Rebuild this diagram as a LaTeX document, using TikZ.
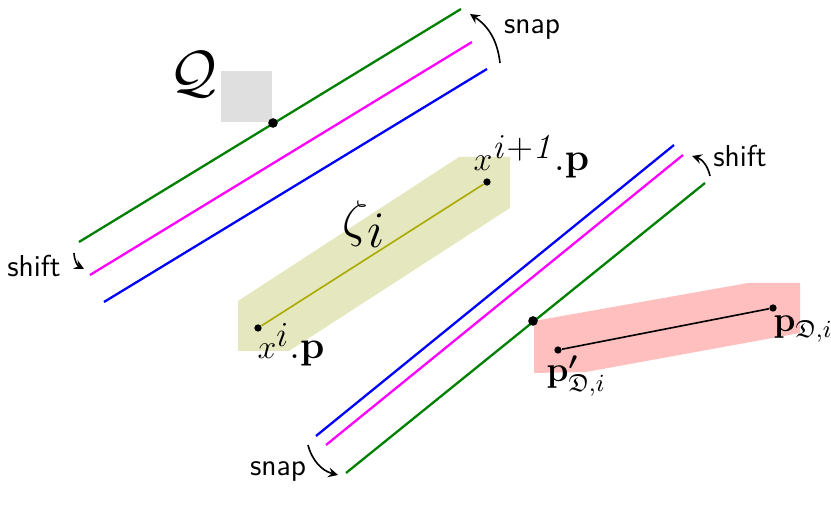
\documentclass[tikz,border=0pt]{standalone}
\usepackage{fix-cm}
\usepackage{amsmath}
\usepackage{amssymb}
\usetikzlibrary{positioning}

\definecolor{trajgreen}{RGB}{0,128,0}
\definecolor{trajmagenta}{RGB}{255,0,255}
\definecolor{zetafill}{RGB}{229,232,190}
\definecolor{zetaline}{RGB}{170,170,0}
\newcommand{\sizedto}[1]{\fontsize{#1}{#1}\selectfont}

\begin{document}
\begin{tikzpicture}[
    x=0.013cm, y=-0.013cm,
    >=stealth,
    dotnode/.style={circle, fill=black, inner sep=0pt, minimum size=1.25mm},
    smalldot/.style={dotnode, minimum size=0.95mm},
    trajectory/.style={line width=0.85pt},
    motion/.style={->, semithick},
    caption/.style={font=\sffamily\sizedto{11.2}, inner sep=0pt},
    mathlabel/.style={font=\sizedto{12.5}, inner sep=0pt, anchor=base west},
    pointlabel/.style={font=\sizedto{13}, inner sep=0pt, anchor=base west}
]
\useasboundingbox (0,0) rectangle (831,506);

% Swept regions
\fill[gray!25] (221,71) rectangle (272,122);
\fill[zetafill] (238,301) -- (459,157) -- (510,157) -- (510,208) -- (289,351) -- (238,351) -- cycle;
\fill[red!25] (534,321) -- (748,283) -- (800,283) -- (800,333) -- (586,372) -- (534,373) -- cycle;

% Upper line set
\coordinate (ga) at (79,242);
\coordinate (gb) at (461,9);
\coordinate (ma) at (90,275);
\coordinate (mb) at (472,42);
\coordinate (ba) at (104,302);
\coordinate (bb) at (487,69);
\draw[trajectory, trajgreen] (ga) -- (gb);
\draw[trajectory, trajmagenta] (ma) -- (mb);
\draw[trajectory, blue] (ba) -- (bb);

% Lower line set
\coordinate (gc) at (346,473);
\coordinate (gd) at (705,183);
\coordinate (mc) at (326,445);
\coordinate (md) at (683,155);
\coordinate (bc) at (316,436);
\coordinate (bd) at (674,145);
\draw[trajectory, trajgreen] (gc) -- (gd);
\draw[trajectory, trajmagenta] (mc) -- (md);
\draw[trajectory, blue] (bc) -- (bd);

% Points
\node[dotnode] (qdot) at (273,123) {};
\node[dotnode] (rdot) at (533,321) {};
\node[smalldot] (xa) at (258,328) {};
\node[smalldot] (xb) at (487,182) {};
\node[smalldot] (pa) at (558,350) {};
\node[smalldot] (pb) at (773,308) {};
\draw[semithick, zetaline] (xa) -- (xb);
\draw[semithick] (pa) -- (pb);

% Labels
\node[font=\sizedto{21.5}, inner sep=0pt] (qlabel) at (193,74) {$\mathcal{Q}$};
\node[font=\sizedto{19}, inner sep=0pt, anchor=base west] (zeta) at (342,237) {$\zeta\kern-0.5pt\raisebox{-4pt}{$i$}$};
\node[mathlabel] (xalabel) at (257,359) {$x^{\mbox{\sizedto{13}$i$}}\mbox{\sizedto{14.4}$.\mathbf{p}$}$};
\node[mathlabel] (xblabel) at (473,171) {$x^{\mbox{\sizedto{13}$\mathit{i{+}1}$}}\kern-1pt\mbox{\sizedto{14.4}$.\mathbf{p}$}$};
\node[pointlabel] (palabel) at (546,382) {$\mathbf{p}^{\boldsymbol{\prime}}_{\mathfrak{D},i}$};
\node[pointlabel] (pblabel) at (773,332) {$\mathbf{p}_{\mathfrak{D},i}$};

% Motion arrows
\coordinate (snapa) at (500,63);
\coordinate (snapb) at (470,14);
\coordinate (shifta) at (710,176);
\coordinate (shiftb) at (692,156);
\coordinate (snapc) at (308,445);
\coordinate (snapd) at (338,475);
\coordinate (shiftc) at (74,253);
\coordinate (shiftd) at (84,269);
\draw[motion] (snapa) to[bend right=25] (snapb);
\draw[motion] (shifta) to[bend right=30] (shiftb);
\draw[motion] (snapc) to[bend right=30] (snapd);
\draw[motion] (shiftc) to[bend right=30] (shiftd);
\node[caption] (snaptop) at (532,29) {snap};
\node[caption] (shifttop) at (740,156) {shift};
\node[caption] (snapbot) at (278,471) {snap};
\node[caption] (shiftbot) at (34,266) {shift};

\end{tikzpicture}
\end{document}
